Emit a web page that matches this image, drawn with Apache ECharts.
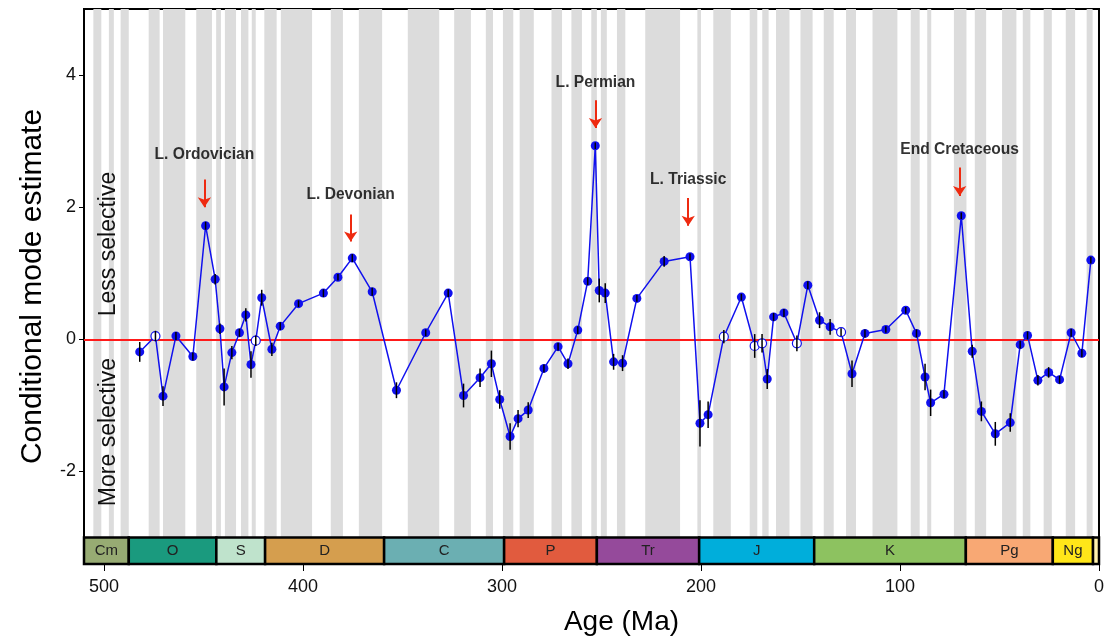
<!DOCTYPE html>
<html>
<head>
<meta charset="utf-8">
<script src="https://cdn.jsdelivr.net/npm/echarts@6/dist/echarts.min.js"></script>
<style>
html, body { margin: 0; padding: 0; background: #fff; }
#chart { width: 1107px; height: 641px; }
</style>
</head>
<body>
<div id="chart"></div>
<script>
// 各时间段的估计值 (Ma)
var ages = [482.0, 474.1, 470.3, 463.8, 455.3, 448.9, 444.1, 441.7, 439.6, 435.7,
    431.9, 428.7, 426.1, 423.7, 420.7, 415.6, 411.4, 402.2, 389.7, 382.4,
    375.2, 365.2, 353.0, 338.3, 327.0, 319.3, 311.0, 305.3, 301.1, 295.9,
    291.9, 286.8, 278.9, 271.8, 266.8, 261.9, 256.9, 253.1, 251.1, 248.1,
    243.9, 239.4, 232.2, 218.5, 205.5, 200.5, 196.4, 188.5, 179.7, 173.0,
    169.3, 166.7, 163.5, 158.3, 151.8, 146.3, 140.4, 135.1, 129.6, 124.1,
    117.6, 107.1, 97.1, 91.7, 87.4, 84.6, 77.9, 69.2, 63.7, 59.1,
    52.1, 44.6, 39.6, 35.9, 30.7, 25.3, 19.8, 14.0, 8.6, 4.1];
var values = [-0.19, 0.05, -0.86, 0.05, -0.26, 1.72, 0.91, 0.16, -0.72, -0.20,
    0.10, 0.37, -0.38, -0.02, 0.63, -0.15, 0.20, 0.54, 0.70, 0.94,
    1.23, 0.72, -0.77, 0.10, 0.70, -0.85, -0.58, -0.37, -0.91, -1.47,
    -1.20, -1.07, -0.44, -0.11, -0.37, 0.14, 0.88, 2.93, 0.74, 0.70,
    -0.34, -0.36, 0.62, 1.18, 1.25, -1.27, -1.14, 0.04, 0.64, -0.10,
    -0.06, -0.60, 0.34, 0.40, -0.06, 0.82, 0.29, 0.19, 0.11, -0.52,
    0.09, 0.15, 0.44, 0.09, -0.57, -0.96, -0.83, 1.87, -0.18, -1.09,
    -1.43, -1.26, -0.08, 0.06, -0.62, -0.50, -0.61, 0.10, -0.21, 1.20];
var errs = [0.15, 0.08, 0.15, 0.06, 0.06, 0.06, 0.08, 0.08, 0.28, 0.10,
    0.06, 0.10, 0.20, 0.08, 0.12, 0.10, 0.06, 0.05, 0.06, 0.05,
    0.06, 0.06, 0.12, 0.05, 0.06, 0.18, 0.14, 0.20, 0.14, 0.20,
    0.13, 0.12, 0.06, 0.06, 0.08, 0.06, 0.06, 0.05, 0.18, 0.15,
    0.12, 0.12, 0.05, 0.08, 0.05, 0.35, 0.20, 0.10, 0.05, 0.18,
    0.14, 0.15, 0.06, 0.06, 0.12, 0.06, 0.12, 0.12, 0.06, 0.20,
    0.06, 0.05, 0.05, 0.06, 0.20, 0.20, 0.06, 0.05, 0.10, 0.15,
    0.18, 0.14, 0.06, 0.06, 0.08, 0.08, 0.06, 0.06, 0.06, 0.05];
// 空心点的序号
var openIdx = [1, 13, 47, 49, 50, 54, 58];

// 灰色条带 (stage)
var bandStart = [505.3, 497.5, 491.6, 477.5, 470.3, 453.6, 443.6, 439.2, 431.1, 425.7,
    419.4, 411.1, 386.0, 371.9, 347.3, 324.0, 308.1, 299.5, 291.1, 275.1,
    265.1, 255.1, 250.3, 242.2, 228.0, 201.8, 193.8, 175.5, 169.2, 162.3,
    150.0, 138.3, 127.1, 113.8, 94.6, 86.3, 72.9, 62.4, 48.7, 38.3,
    27.8, 16.7, 6.2];
var bandEnd = [501.3, 495.0, 487.5, 472.0, 459.1, 445.7, 441.2, 433.6, 427.4, 423.7,
    413.2, 395.4, 379.9, 360.2, 331.5, 315.6, 304.5, 294.3, 284.0, 269.8,
    259.8, 252.3, 247.3, 238.0, 210.5, 200.0, 185.0, 171.7, 166.0, 155.5,
    143.9, 133.3, 122.1, 101.3, 90.1, 84.3, 66.6, 56.7, 41.5, 34.5,
    23.7, 12.0, 3.2];

// 地质年代
var periodNames = ['Cm', 'O', 'S', 'D', 'C', 'P', 'Tr', 'J', 'K', 'Pg', 'Ng', ''];
var periodStart = [510, 487.5, 443.5, 419.0, 359.2, 298.9, 252.3, 200.9, 143.1, 66.9, 23.2, 3.0];
var periodEnd = [487.5, 443.5, 419.0, 359.2, 298.9, 252.3, 200.9, 143.1, 66.9, 23.2, 3.0, 0];
var periodColors = ['#97ab73', '#1a9a7e', '#bfe3cc', '#d59e4e', '#6bafb2', '#e15b3e',
    '#954a9b', '#00aedb', '#8dc260', '#f8a874', '#ffe619', '#fff2ae'];

// 灭绝事件标注
var eventNames = ['L. Ordovician', 'L. Devonian', 'L. Permian', 'L. Triassic', 'End Cretaceous'];
var eventAges = [449.5, 376.0, 253.0, 206.4, 70.0];
var eventTextY = [2.79, 2.19, 3.88, 2.42, 2.87];
var eventArrowTop = [2.42, 1.89, 3.62, 2.14, 2.60];
var eventArrowBottom = [2.0, 1.48, 3.2, 1.72, 2.17];

var yTicks = [-2, 0, 2, 4];
var xTicks = [0, 100, 200, 300, 400, 500];

var FONT = 'Liberation Sans, Arial, sans-serif';
var myChart = echarts.init(document.getElementById('chart'));

var bandData = bandStart.map(function(s, i) {
    return [s, bandEnd[i]];
});
var periodData = periodStart.map(function(s, i) {
    return [s, periodEnd[i], i];
});
var pointData = ages.map(function(a, i) {
    var item = { value: [a, values[i]] };
    if (openIdx.indexOf(i) >= 0) {
        item.itemStyle = { color: '#ffffff', borderColor: '#1010ee', borderWidth: 1.2 };
    }
    return item;
});
var errData = ages.map(function(a, i) {
    return [a, values[i] - errs[i], values[i] + errs[i]];
});
var arrowData = eventAges.map(function(a, i) {
    return [{ coord: [a, eventArrowTop[i]] }, { coord: [a, eventArrowBottom[i]] }];
});
var labelData = eventAges.map(function(a, i) {
    return { value: [a, eventTextY[i]], name: eventNames[i] };
});

var option = {
    animation: false,
    grid: {
        left: 84,
        right: 6,
        top: 9,
        bottom: 76,
        show: true,
        borderColor: '#000',
        borderWidth: 2,
        backgroundColor: 'transparent'
    },
    xAxis: {
        type: 'value',
        inverse: true,
        min: 0,
        max: 510,
        name: 'Age (Ma)',
        nameLocation: 'middle',
        nameGap: 44,
        nameTextStyle: { fontFamily: FONT, fontSize: 28, color: '#000', padding: [0, 0, 0, 60] },
        axisLine: { show: false, onZero: false },
        splitLine: { show: false },
        axisTick: { show: true, length: 7, lineStyle: { color: '#000' }, customValues: xTicks },
        axisLabel: { fontFamily: FONT, fontSize: 18, color: '#111', margin: 14, customValues: xTicks }
    },
    yAxis: {
        type: 'value',
        min: -3.4,
        max: 5,
        name: 'Conditional mode estimate',
        nameLocation: 'middle',
        nameGap: 36,
        nameTextStyle: { fontFamily: FONT, fontSize: 30, color: '#000' },
        axisLine: { show: false, onZero: false },
        splitLine: { show: false },
        axisTick: { show: true, length: 5, lineStyle: { color: '#000' }, customValues: yTicks },
        axisLabel: { fontFamily: FONT, fontSize: 18, color: '#111', margin: 8, customValues: yTicks }
    },
    graphic: [{
        type: 'text',
        x: 109,
        y: 244,
        rotation: Math.PI / 2,
        z: 100,
        style: { text: 'Less selective', font: '23px ' + FONT, fill: '#111', align: 'center', verticalAlign: 'middle' }
    }, {
        type: 'text',
        x: 109,
        y: 432,
        rotation: Math.PI / 2,
        z: 100,
        style: { text: 'More selective', font: '23px ' + FONT, fill: '#111', align: 'center', verticalAlign: 'middle' }
    }],
    series: [{
        // 灰色条带
        type: 'custom',
        silent: true,
        z: 1,
        data: bandData,
        encode: { x: [0, 1] },
        renderItem: function(params, api) {
            var p0 = api.coord([api.value(0), 5]);
            var p1 = api.coord([api.value(1), -3]);
            return {
                type: 'rect',
                shape: {
                    x: Math.min(p0[0], p1[0]),
                    y: p0[1],
                    width: Math.abs(p1[0] - p0[0]),
                    height: p1[1] - p0[1]
                },
                style: { fill: '#dcdcdc' }
            };
        }
    }, {
        // 地质年代色条
        type: 'custom',
        silent: true,
        z: 5,
        data: periodData,
        encode: { x: [0, 1] },
        renderItem: function(params, api) {
            var idx = api.value(2);
            var p0 = api.coord([api.value(0), -3.0]);
            var p1 = api.coord([api.value(1), -3.4]);
            var x0 = Math.min(p0[0], p1[0]);
            var w = Math.abs(p1[0] - p0[0]);
            return {
                type: 'group',
                children: [{
                    type: 'rect',
                    shape: { x: x0, y: p0[1], width: w, height: p1[1] - p0[1] },
                    style: { fill: periodColors[idx], stroke: '#000', lineWidth: 2.5 }
                }, {
                    type: 'text',
                    style: {
                        text: periodNames[idx],
                        x: x0 + w / 2,
                        y: (p0[1] + p1[1]) / 2,
                        align: 'center',
                        verticalAlign: 'middle',
                        font: '15px ' + FONT,
                        fill: '#222'
                    }
                }]
            };
        }
    }, {
        // 折线和点
        type: 'line',
        z: 10,
        data: pointData,
        symbol: 'circle',
        symbolSize: 9,
        itemStyle: { color: '#1010ee' },
        lineStyle: { color: '#1010ee', width: 1.5 },
        markLine: {
            silent: true,
            symbol: 'none',
            label: { show: false },
            lineStyle: { color: '#ff1a1a', width: 2, type: 'solid' },
            data: [{ yAxis: 0 }]
        }
    }, {
        // 误差线
        type: 'custom',
        silent: true,
        z: 12,
        data: errData,
        encode: { x: 0, y: [1, 2] },
        renderItem: function(params, api) {
            var lo = api.coord([api.value(0), api.value(1)]);
            var hi = api.coord([api.value(0), api.value(2)]);
            return {
                type: 'line',
                shape: { x1: lo[0], y1: lo[1], x2: hi[0], y2: hi[1] },
                style: { stroke: '#000', lineWidth: 1.5 }
            };
        }
    }, {
        // 事件标注
        type: 'scatter',
        silent: true,
        z: 20,
        symbolSize: 0,
        data: labelData,
        label: {
            show: true,
            position: 'inside',
            formatter: '{b}',
            fontFamily: FONT,
            fontSize: 15.6,
            fontWeight: 'bold',
            color: '#000'
        },
        markLine: {
            silent: true,
            symbol: ['none', 'arrow'],
            symbolSize: 10,
            label: { show: false },
            lineStyle: { color: '#ee2a10', width: 2, type: 'solid' },
            data: arrowData
        }
    }]
};

myChart.setOption(option);
</script>
</body>
</html>
